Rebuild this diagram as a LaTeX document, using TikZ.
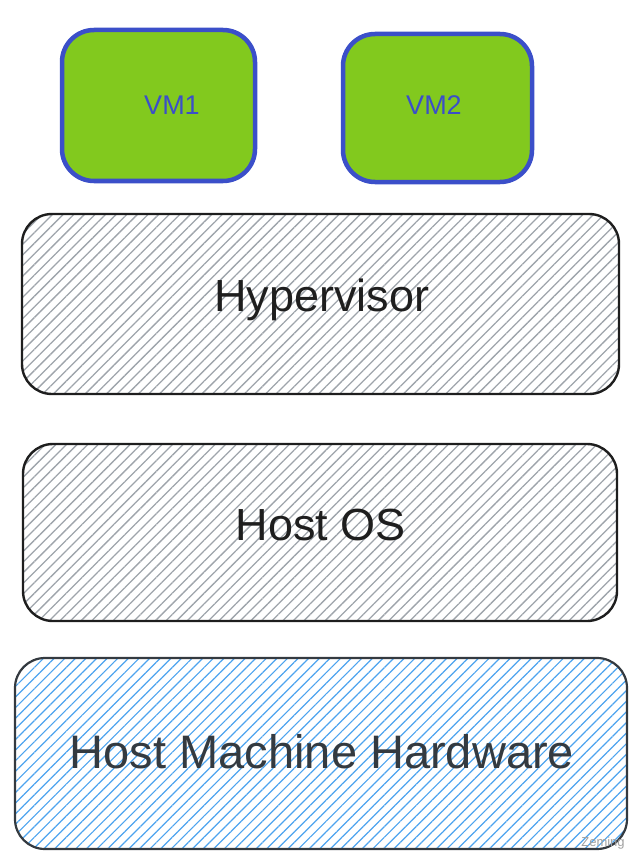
\documentclass[tikz,border=0pt]{standalone}
\usepackage{fontspec}
\setmainfont{Liberation Sans}
\usetikzlibrary{patterns.meta}
\definecolor{vmgreen}{HTML}{82C91E}
\definecolor{vmblue}{HTML}{3B4FC9}
\definecolor{inkblack}{HTML}{1E1E1E}
\definecolor{inkgray}{HTML}{343A40}
\definecolor{hatchgray}{HTML}{9EA4AB}
\definecolor{hatchblue}{HTML}{4DA3EE}
\definecolor{markgray}{HTML}{A0A0A0}
\begin{document}
\begin{tikzpicture}[x=1pt,y=-1pt,
  vmbox/.style={draw=vmblue, line width=4.5pt, fill=vmgreen, rounded corners=32pt, inner sep=0pt},
  layerbox/.style={draw=inkblack, line width=2.4pt, rounded corners=30pt, inner sep=0pt,
    pattern={Lines[angle=45,distance=7.5pt,line width=1.3pt]}, pattern color=hatchgray},
  hwbox/.style={draw=inkgray, line width=2.2pt, rounded corners=30pt, inner sep=0pt,
    pattern={Lines[angle=45,distance=7.5pt,line width=1.2pt]}, pattern color=hatchblue},
  vmtext/.style={text=vmblue, font=\fontsize{27}{32}\selectfont},
  bigtext/.style={text=inkblack, font=\fontsize{45}{54}\selectfont},
  hwtext/.style={text=inkgray, font=\fontsize{47}{56}\selectfont},
  wmtext/.style={text=markgray, font=\fontsize{13}{15}\selectfont}]
\useasboundingbox (0,0) rectangle (642,861);
% VM boxes
\draw[vmbox] (62,30) rectangle (255,181);
\node[vmtext] (vm1) at (172,105) {VM1};
\draw[vmbox] (343,34) rectangle (532,182);
\node[vmtext] (vm2) at (434,105) {VM2};
% Hypervisor
\draw[layerbox] (22,214) rectangle (619,394);
\node[bigtext] (hyp) at (322,300) {Hypervisor};
% Host OS
\draw[layerbox] (23,444) rectangle (617,621);
\node[bigtext] (os) at (321,525) {Host OS};
% Hardware
\draw[hwbox] (15,658) rectangle (627,849);
\node[hwtext] (hw) at (322,752) {Host Machine Hardware};
% watermark
\node[wmtext] (wm) at (603,843) {Zeming};
\end{tikzpicture}
\end{document}
